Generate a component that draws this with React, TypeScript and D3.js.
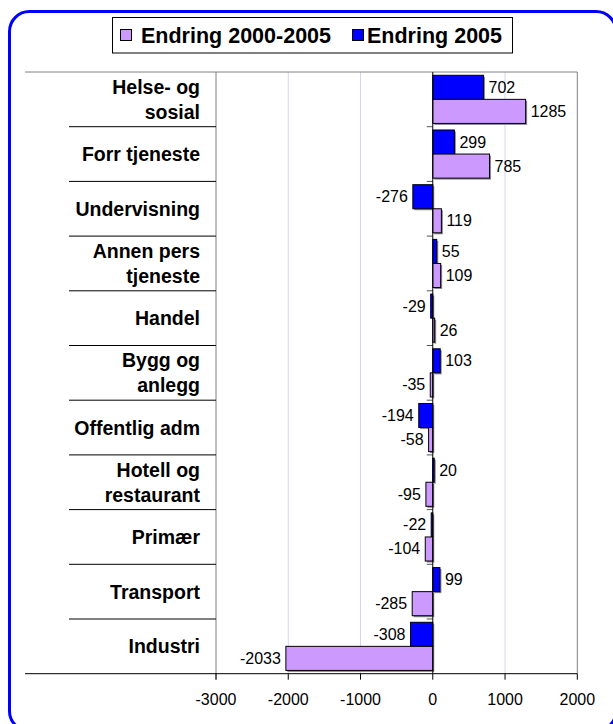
import React, { useEffect, useRef } from 'react';
import * as d3 from 'd3';

const categories: string[][] = [
  ['Helse- og', 'sosial'],
  ['Forr tjeneste'],
  ['Undervisning'],
  ['Annen pers', 'tjeneste'],
  ['Handel'],
  ['Bygg og', 'anlegg'],
  ['Offentlig adm'],
  ['Hotell og', 'restaurant'],
  ['Primær'],
  ['Transport'],
  ['Industri'],
];
const endring2005: number[] = [702, 299, -276, 55, -29, 103, -194, 20, -22, 99, -308];
const endring2000_2005: number[] = [1285, 785, 119, 109, 26, -35, -58, -95, -104, -285, -2033];
const xTicks: number[] = [-3000, -2000, -1000, 0, 1000, 2000];
const seriesNames: string[] = ['Endring 2000-2005', 'Endring 2005'];

const App: React.FC = () => {
  const ref = useRef<SVGSVGElement | null>(null);

  useEffect(() => {
    if (!ref.current) return;
    const width = 613;
    const height = 724;
    const font = '"Liberation Sans", Arial, sans-serif';
    const purple = '#cc99ff';
    const blue = '#0000ff';

    const svg = d3.select(ref.current);
    svg.selectAll('*').remove();
    svg.attr('width', width).attr('height', height);

    // frame (runs past the right and bottom edges)
    svg
      .append('rect')
      .attr('x', 9.5)
      .attr('y', 11.5)
      .attr('width', 606.5)
      .attr('height', 719.5)
      .attr('rx', 20)
      .attr('fill', '#fff')
      .attr('stroke', blue)
      .attr('stroke-width', 3);

    const plot = { left: 216, right: 577.3, top: 72, bottom: 673.7 };
    const labelLeft = 25;

    const x = d3.scaleLinear().domain([-3000, 2000]).range([plot.left, plot.right]);
    const idx = categories.map((_, i) => String(i));
    const y = d3.scaleBand().domain(idx).range([plot.top, plot.bottom]).paddingInner(0.12).paddingOuter(0.06);
    const inner = d3.scaleBand().domain(['b', 'p']).range([0, y.bandwidth()]);
    const step = (plot.bottom - plot.top) / categories.length;

    // gridlines
    svg
      .selectAll('line.grid')
      .data(xTicks.filter((t) => t !== 0 && t !== -3000 && t !== 2000))
      .enter()
      .append('line')
      .attr('x1', (d) => x(d))
      .attr('x2', (d) => x(d))
      .attr('y1', plot.top)
      .attr('y2', plot.bottom)
      .attr('stroke', '#d4d4f8')
      .attr('stroke-width', 1);

    // plot borders
    svg.append('line').attr('x1', labelLeft).attr('x2', plot.right).attr('y1', plot.top).attr('y2', plot.top).attr('stroke', '#808080');
    svg.append('line').attr('x1', plot.left).attr('x2', plot.left).attr('y1', plot.top).attr('y2', plot.bottom + 6).attr('stroke', '#808080');
    svg.append('line').attr('x1', plot.right).attr('x2', plot.right).attr('y1', plot.top).attr('y2', plot.bottom).attr('stroke', '#808080');

    // category separators on the left
    d3.range(1, categories.length).forEach((i) => {
      const yy = plot.top + step * i;
      svg.append('line').attr('x1', 69).attr('x2', plot.left).attr('y1', yy).attr('y2', yy).attr('stroke', '#000');
      svg.append('line').attr('x1', x(0) - 6).attr('x2', x(0)).attr('y1', yy).attr('y2', yy).attr('stroke', '#555');
    });

    // category labels
    categories.forEach((lines, i) => {
      const cy = plot.top + step * (i + 0.5);
      const lh = 25;
      const t = svg
        .append('text')
        .attr('text-anchor', 'end')
        .attr('font-family', font)
        .attr('font-weight', 'bold')
        .attr('font-size', 19.5)
        .attr('fill', '#000');
      lines.forEach((ln, j) => {
        t.append('tspan')
          .attr('x', 200)
          .attr('y', cy + (j - (lines.length - 1) / 2) * lh + 7)
          .text(ln);
      });
    });

    // bars
    const bars = [
      { key: 'b', values: endring2005, color: blue },
      { key: 'p', values: endring2000_2005, color: purple },
    ];
    bars.forEach((s) => {
      s.values.forEach((v, i) => {
        const y0 = (y(String(i)) as number) + (inner(s.key) as number);
        const h = inner.bandwidth();
        const x0 = Math.min(x(0), x(v));
        const w = Math.abs(x(v) - x(0));
        svg.append('rect').attr('x', x0 + 1.5).attr('y', y0 + 1.5).attr('width', w).attr('height', h).attr('fill', '#8a8a8a');
        svg
          .append('rect')
          .attr('x', x0)
          .attr('y', y0)
          .attr('width', w)
          .attr('height', h)
          .attr('fill', s.color)
          .attr('stroke', '#000')
          .attr('stroke-width', 1);
        svg
          .append('text')
          .attr('x', v >= 0 ? x(v) + 5 : x(v) - 5)
          .attr('y', y0 + h / 2 + 5.5)
          .attr('text-anchor', v >= 0 ? 'start' : 'end')
          .attr('font-family', font)
          .attr('font-size', 16)
          .attr('fill', '#000')
          .text(String(v));
      });
    });

    // zero axis
    svg.append('line').attr('x1', x(0)).attr('x2', x(0)).attr('y1', plot.top).attr('y2', plot.bottom).attr('stroke', '#000');

    // bottom axis
    svg.append('line').attr('x1', labelLeft).attr('x2', plot.right).attr('y1', plot.bottom).attr('y2', plot.bottom).attr('stroke', '#000');
    const axis = svg.append('g');
    axis
      .selectAll('line')
      .data(xTicks)
      .enter()
      .append('line')
      .attr('x1', (d) => x(d))
      .attr('x2', (d) => x(d))
      .attr('y1', plot.bottom)
      .attr('y2', plot.bottom + 6)
      .attr('stroke', '#000');
    axis
      .selectAll('text')
      .data(xTicks)
      .enter()
      .append('text')
      .attr('x', (d) => x(d))
      .attr('y', plot.bottom + 31)
      .attr('text-anchor', 'middle')
      .attr('font-family', font)
      .attr('font-size', 16)
      .attr('fill', '#000')
      .text((d) => String(d));

    // legend
    const lg = svg.append('g');
    lg.append('rect').attr('x', 112.5).attr('y', 17.5).attr('width', 400).attr('height', 35.5).attr('fill', '#fff').attr('stroke', '#000');
    const items = [
      { name: seriesNames[0], color: purple, sx: 120, tx: 141 },
      { name: seriesNames[1], color: blue, sx: 352, tx: 367 },
    ];
    items.forEach((it) => {
      lg.append('rect').attr('x', it.sx + 0.5).attr('y', 29.5).attr('width', 11).attr('height', 11).attr('fill', it.color).attr('stroke', '#000');
      lg.append('text')
        .attr('x', it.tx)
        .attr('y', 43)
        .attr('font-family', font)
        .attr('font-weight', 'bold')
        .attr('font-size', 21.5)
        .attr('fill', '#000')
        .text(it.name);
    });
  }, []);

  return <svg ref={ref} style={{ position: 'absolute', left: 0, top: 0, display: 'block' }}></svg>;
};

export default App;
